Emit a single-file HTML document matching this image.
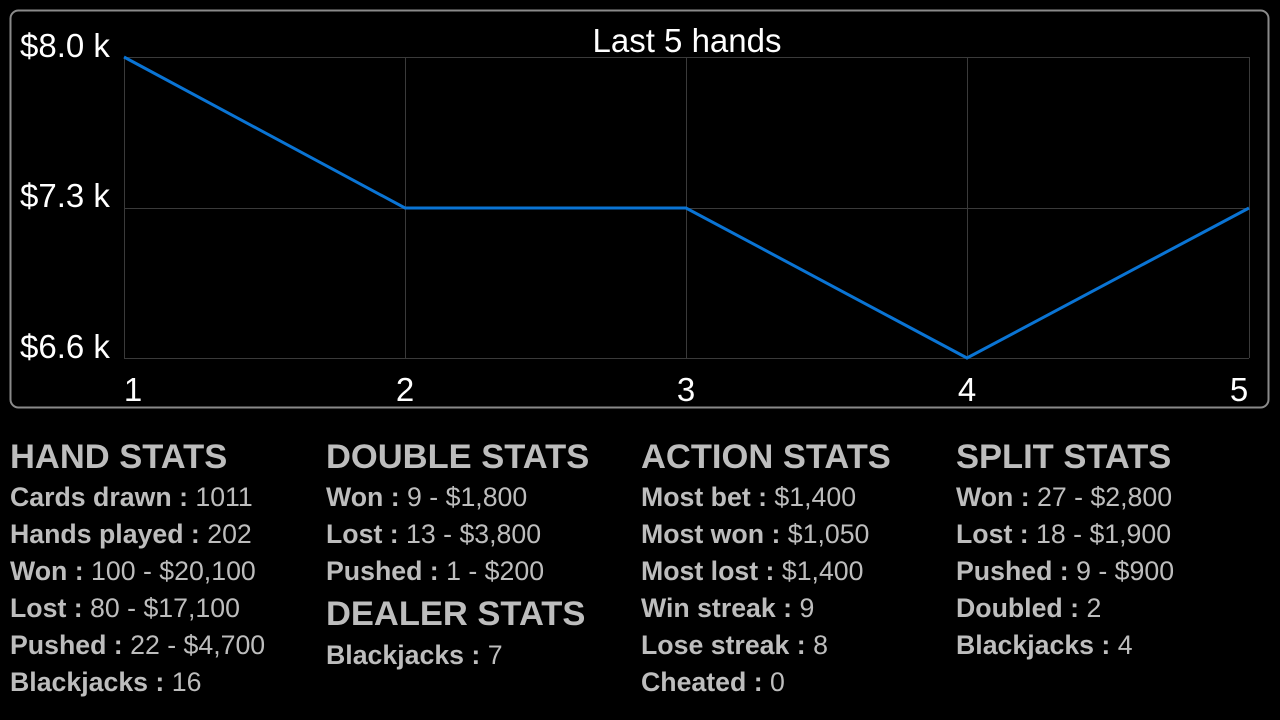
<!DOCTYPE html>
<html><head><style>
html,body{margin:0;padding:0;background:#000;}
svg{display:block}
.h{font:bold 34.5px "Liberation Sans",sans-serif;fill:#bdbdbd}
.t{font:26.7px "Liberation Sans",sans-serif;fill:#bdbdbd}
.t tspan.b{font-weight:bold}
.ax{font:33px "Liberation Sans",sans-serif;fill:#fff}
</style></head><body>
<svg width="1280" height="720" xmlns="http://www.w3.org/2000/svg">
<rect x="10.5" y="10.5" width="1258" height="397" rx="8" fill="#000" stroke="#8a8a8a" stroke-width="2"/>
<g stroke="#3a3a3a" stroke-width="1">
<line x1="124" y1="57.5" x2="1249" y2="57.5"/>
<line x1="124" y1="208.5" x2="1249" y2="208.5"/>
<line x1="124" y1="358.5" x2="1249" y2="358.5"/>
<line x1="124.5" y1="57" x2="124.5" y2="358"/>
<line x1="405.5" y1="57" x2="405.5" y2="358"/>
<line x1="686.5" y1="57" x2="686.5" y2="358"/>
<line x1="967.5" y1="57" x2="967.5" y2="358"/>
<line x1="1249.5" y1="57" x2="1249.5" y2="358"/>
</g>
<polyline points="124,57 405,208 686,208 967,358 1249,208" fill="none" stroke="#0a74d4" stroke-width="3"/>
<text class="ax" x="687" y="52" text-anchor="middle">Last 5 hands</text>
<text class="ax" x="20" y="57">$8.0 k</text>
<text class="ax" x="20" y="207">$7.3 k</text>
<text class="ax" x="20" y="358">$6.6 k</text>
<text class="ax" x="133" y="401" text-anchor="middle">1</text>
<text class="ax" x="405" y="401" text-anchor="middle">2</text>
<text class="ax" x="686" y="401" text-anchor="middle">3</text>
<text class="ax" x="967" y="401" text-anchor="middle">4</text>
<text class="ax" x="1239" y="401" text-anchor="middle">5</text>

<text class="h" x="10" y="468">HAND STATS</text>
<text class="t" x="10" y="506"><tspan class="b">Cards drawn :</tspan> 1011</text>
<text class="t" x="10" y="543"><tspan class="b">Hands played :</tspan> 202</text>
<text class="t" x="10" y="580"><tspan class="b">Won :</tspan> 100 - $20,100</text>
<text class="t" x="10" y="617"><tspan class="b">Lost :</tspan> 80 - $17,100</text>
<text class="t" x="10" y="654"><tspan class="b">Pushed :</tspan> 22 - $4,700</text>
<text class="t" x="10" y="691"><tspan class="b">Blackjacks :</tspan> 16</text>

<text class="h" x="326" y="468">DOUBLE STATS</text>
<text class="t" x="326" y="506"><tspan class="b">Won :</tspan> 9 - $1,800</text>
<text class="t" x="326" y="543"><tspan class="b">Lost :</tspan> 13 - $3,800</text>
<text class="t" x="326" y="580"><tspan class="b">Pushed :</tspan> 1 - $200</text>
<text class="h" x="326" y="625">DEALER STATS</text>
<text class="t" x="326" y="664"><tspan class="b">Blackjacks :</tspan> 7</text>

<text class="h" x="641" y="468">ACTION STATS</text>
<text class="t" x="641" y="506"><tspan class="b">Most bet :</tspan> $1,400</text>
<text class="t" x="641" y="543"><tspan class="b">Most won :</tspan> $1,050</text>
<text class="t" x="641" y="580"><tspan class="b">Most lost :</tspan> $1,400</text>
<text class="t" x="641" y="617"><tspan class="b">Win streak :</tspan> 9</text>
<text class="t" x="641" y="654"><tspan class="b">Lose streak :</tspan> 8</text>
<text class="t" x="641" y="691"><tspan class="b">Cheated :</tspan> 0</text>

<text class="h" x="956" y="468">SPLIT STATS</text>
<text class="t" x="956" y="506"><tspan class="b">Won :</tspan> 27 - $2,800</text>
<text class="t" x="956" y="543"><tspan class="b">Lost :</tspan> 18 - $1,900</text>
<text class="t" x="956" y="580"><tspan class="b">Pushed :</tspan> 9 - $900</text>
<text class="t" x="956" y="617"><tspan class="b">Doubled :</tspan> 2</text>
<text class="t" x="956" y="654"><tspan class="b">Blackjacks :</tspan> 4</text>
</svg>
</body></html>
